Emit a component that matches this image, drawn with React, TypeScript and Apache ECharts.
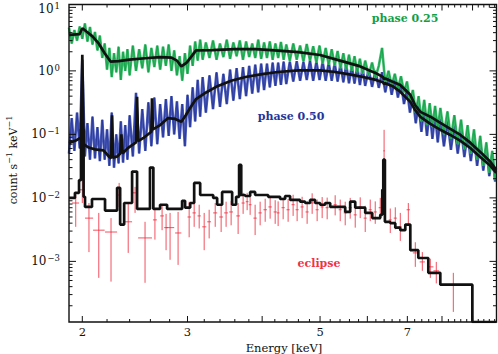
import React, { useEffect, useRef } from "react";
import * as echarts from "echarts";

// ---------- axes ----------
const X_MIN = 1.9;
const X_MAX = 9.87;
const Y_MIN = 1.11e-4;
const Y_MAX = 11.1;

const xTickLabels = [2, 3, 5, 7];
const xMajorTicks = [2, 3, 4, 5, 6, 7, 8, 9];
const yTickExponents = [1, 0, -1, -2, -3];

// ---------- channel energies of the phase-resolved spectra (keV) ----------
const chanE = [
  1.9, 1.92, 1.94, 1.96, 1.98, 2.0, 2.02, 2.04, 2.06, 2.08, 2.1, 2.12, 2.14, 2.16, 2.18, 2.2, 2.22, 2.24, 2.26,
  2.28, 2.3, 2.32, 2.34, 2.36, 2.38, 2.4,
  2.43, 2.46, 2.49, 2.52, 2.55, 2.58, 2.61, 2.64, 2.67, 2.7, 2.73, 2.76, 2.79, 2.82, 2.85, 2.88, 2.91, 2.94,
  2.97, 3.0, 3.03, 3.06, 3.09, 3.12, 3.15, 3.18,
  3.22, 3.265, 3.31, 3.355, 3.4, 3.445, 3.49, 3.535, 3.58, 3.625, 3.67, 3.715, 3.76, 3.805, 3.85, 3.895, 3.94,
  3.985, 4.03, 4.075, 4.12, 4.165, 4.21, 4.255, 4.3, 4.345, 4.39,
  4.45, 4.51, 4.57, 4.63, 4.69, 4.75, 4.81, 4.87, 4.93, 4.99, 5.05, 5.11, 5.17, 5.23, 5.29, 5.35, 5.41, 5.47,
  5.53, 5.59, 5.65, 5.71, 5.77, 5.83, 5.89, 5.95,
  6.03, 6.11, 6.19, 6.27, 6.35, 6.43, 6.51, 6.59, 6.67, 6.75, 6.83, 6.91, 6.99, 7.07, 7.15, 7.23, 7.31, 7.39,
  7.47, 7.55, 7.63, 7.71, 7.79, 7.87, 7.95,
  8.06, 8.17, 8.28, 8.39, 8.5, 8.61, 8.72, 8.83, 8.94, 9.05, 9.16, 9.27, 9.38, 9.49, 9.6, 9.71, 9.82,
];

// ---------- phase 0.25 data (green) ----------
const greenV = [
  4.8, 2.7, 4.4, 3.0, 5.0, 3.2, 5.6, 2.9, 4.9, 2.6, 4.1, 2.1, 3.6, 1.6, 2.7, 1.05, 2.3, 0.8, 1.9,
  0.95, 2.4, 0.72, 2.0, 1.0, 2.2, 0.85,
  2.5, 1.0, 2.2, 1.1, 2.6, 0.95, 2.3, 1.15, 2.5, 1.05, 2.4, 1.2, 2.6, 1.0, 2.1, 0.85, 1.7, 0.7,
  1.9, 0.9, 2.5, 1.2, 2.9, 1.45, 3.1, 1.5,
  2.8, 1.6, 3.0, 1.5, 2.7, 1.65, 3.1, 1.55, 2.8, 1.7, 3.0, 1.5, 2.9, 1.65, 2.7, 1.6, 3.1,
  1.55, 2.8, 1.6, 2.9, 1.5, 2.7, 1.6, 2.85, 1.5, 2.6,
  1.45, 2.7, 1.5, 2.5, 1.4, 2.65, 1.45, 2.45, 1.35, 2.5, 1.3, 2.3, 1.25, 2.2, 1.2, 2.05, 1.1, 1.9,
  1.05, 1.8, 1.0, 1.7, 0.95, 1.55, 0.9, 1.45,
  0.85, 1.35, 0.78, 1.2, 2.3, 0.62, 1.0, 0.58, 0.9, 0.52, 0.82, 0.46, 0.68, 0.33, 0.5, 0.22, 0.4, 0.16,
  0.35, 0.14, 0.31, 0.13, 0.28, 0.12, 0.26,
  0.1, 0.23, 0.085, 0.2, 0.07, 0.17, 0.058, 0.14, 0.05, 0.12, 0.04, 0.095, 0.032, 0.075, 0.025, 0.055, 0.019,
];

// ---------- phase 0.50 data (blue) ----------
const blueV = [
  0.05, 0.18, 0.055, 0.22, 0.06, 1.5, 0.045, 0.15, 0.04, 0.19, 0.042, 0.13, 0.038, 0.17, 0.04, 0.12, 0.032, 0.22, 0.03,
  0.1, 0.035, 0.16, 0.036, 0.14, 0.04, 0.2,
  0.045, 0.45, 0.05, 0.25, 0.055, 0.32, 0.065, 0.38, 0.07, 0.3, 0.09, 0.36, 0.095, 0.4, 0.1, 0.33, 0.085, 0.3,
  0.065, 0.42, 0.13, 0.55, 0.16, 0.72, 0.19, 0.8,
  0.22, 0.85, 0.25, 0.95, 0.27, 0.9, 0.3, 1.05, 0.34, 1.1, 0.36, 1.15, 0.4, 1.2, 0.44, 1.25, 0.46,
  1.3, 0.5, 1.3, 0.55, 1.35, 0.58, 1.35, 0.6, 1.4, 0.62,
  1.4, 0.68, 1.42, 0.7, 1.38, 0.72, 1.45, 0.7, 1.4, 0.72, 1.38, 0.7, 1.35, 0.7, 1.32, 0.68, 1.28, 0.66,
  1.25, 0.64, 1.2, 0.63, 1.16, 0.6, 1.12, 0.58,
  1.05, 0.56, 1.0, 0.54, 0.95, 0.46, 0.85, 0.42, 0.75, 0.38, 0.66, 0.3, 0.52, 0.22, 0.4, 0.15, 0.3, 0.11,
  0.27, 0.095, 0.24, 0.085, 0.21, 0.075, 0.19,
  0.065, 0.17, 0.057, 0.145, 0.05, 0.125, 0.044, 0.105, 0.038, 0.09, 0.032, 0.075, 0.027, 0.062, 0.022, 0.048, 0.018,
];

// ---------- models (black) ----------
const greenModelE = [
  1.9, 1.98, 2.0, 2.03, 2.08, 2.13, 2.18, 2.23, 2.3, 2.4, 2.55, 2.7, 2.82, 2.88, 2.93, 2.99, 3.04, 3.1,
  3.3, 3.6, 3.9, 4.2, 4.6, 5.0, 5.4, 5.8, 6.2, 6.37, 6.4, 6.43, 6.6, 6.81, 7.08, 7.21, 7.36, 7.65, 7.95,
  8.26, 8.59, 8.92, 9.27, 9.64, 9.86,
];
const greenModelV = [
  3.7, 3.8, 4.7, 4.2, 3.5, 2.7, 1.9, 1.4, 1.42, 1.5, 1.58, 1.65, 1.62, 1.45, 1.18, 1.35, 1.65, 2.1,
  2.12, 2.2, 2.2, 2.1, 1.98, 1.78, 1.45, 1.2, 0.92, 0.8, 0.74, 0.76, 0.68, 0.6, 0.42, 0.29, 0.226, 0.19, 0.152,
  0.122, 0.098, 0.074, 0.053, 0.037, 0.0276,
];
const blueModelE = [
  1.9, 1.95, 1.99, 2.0, 2.01, 2.05, 2.1, 2.17, 2.22, 2.235, 2.243, 2.25, 2.29, 2.315, 2.325, 2.335, 2.38,
  2.46, 2.47, 2.48, 2.54, 2.61, 2.616, 2.625, 2.7, 2.78, 2.86, 2.93, 2.98, 3.03, 3.1, 3.2, 3.35, 3.55,
  3.75, 4.0, 4.25, 4.6, 5.0, 5.3, 5.6, 5.9, 6.2, 6.37, 6.4, 6.43, 6.6, 6.81, 7.08, 7.21, 7.36, 7.65,
  7.95, 8.26, 8.59, 8.92, 9.27, 9.64, 9.86,
];
const blueModelV = [
  0.073, 0.08, 0.09, 1.8, 0.07, 0.062, 0.058, 0.056, 0.044, 0.042, 0.2, 0.043, 0.045, 0.05, 0.1, 0.05, 0.06,
  0.075, 0.39, 0.078, 0.09, 0.11, 0.37, 0.12, 0.14, 0.18, 0.175, 0.158, 0.2, 0.26, 0.36, 0.44, 0.56, 0.7,
  0.8, 0.89, 0.96, 1.02, 1.02, 0.96, 0.88, 0.8, 0.72, 0.66, 0.62, 0.64, 0.58, 0.47, 0.325, 0.243, 0.189, 0.146,
  0.118, 0.098, 0.079, 0.061, 0.044, 0.032, 0.0248,
];
// eclipse model, histogram: value holds from each edge to the next
const eclipseModelE = [
  1.9, 1.944, 1.975, 1.99, 2.01, 2.021, 2.076, 2.183, 2.287, 2.314, 2.35, 2.423, 2.47, 2.596, 2.63, 2.699,
  2.773, 2.938, 2.972, 3.031, 3.078, 3.15, 3.312, 3.363, 3.428, 3.563, 3.618, 3.66, 3.69, 3.746, 3.819,
  3.893, 4.094, 4.287, 4.37, 4.455, 4.63, 4.72, 4.812, 4.906, 5.002, 5.099, 5.199, 5.509, 5.616, 5.726,
  5.951, 6.114, 6.306, 6.355, 6.38, 6.42, 6.554, 6.682, 6.812, 6.945, 7.08, 7.302, 7.589, 7.948, 8.993, 9.87,
];
const eclipseModelV = [
  0.01, 0.012, 0.019, 0.12, 0.0104, 0.0072, 0.0096, 0.0063, 0.0144, 0.0038, 0.0083, 0.026, 0.0067, 0.03,
  0.0067, 0.0078, 0.0067, 0.009, 0.007, 0.0083, 0.0172, 0.0111, 0.01, 0.0078, 0.0124, 0.0078, 0.0104, 0.033,
  0.0111, 0.0107, 0.0124, 0.0111, 0.0104, 0.0096, 0.0107, 0.0093, 0.0087, 0.0083, 0.0093, 0.0083, 0.0078,
  0.0083, 0.0072, 0.006, 0.0087, 0.007, 0.0058, 0.0048, 0.0054, 0.0134, 0.04, 0.0042, 0.004, 0.0034, 0.0031,
  0.0038, 0.0015, 0.00113, 0.00066, 0.00043, 1.11e-4, 1.11e-4,
];

// ---------- eclipse data: centre, rate, bin edges, error range ----------
const eclipseE = [
  1.95, 2.0, 2.052, 2.131, 2.234, 2.305, 2.387, 2.451, 2.547, 2.646, 2.72, 2.762, 2.805, 2.893, 3.019, 3.078,
  3.138, 3.199, 3.261, 3.338, 3.415, 3.481, 3.549, 3.646, 3.717, 3.775, 3.819, 3.893, 3.969, 4.047, 4.125,
  4.206, 4.254, 4.337, 4.421, 4.507, 4.577, 4.666, 4.757, 4.85, 4.944, 5.041, 5.139, 5.3, 5.404, 5.509,
  5.616, 5.726, 5.837, 5.951, 6.067, 6.185, 6.306, 6.4, 6.554, 6.682, 6.812, 7.026, 7.218, 7.416, 7.648,
  7.826, 8.357,
];
const eclipseV = [
  0.0083, 0.0134, 0.0048, 0.0031, 0.0029, 0.0111, 0.0042, 0.012, 0.00234, 0.0045, 0.0052, 0.0034, 0.0034,
  0.0028, 0.005, 0.0058, 0.0052, 0.0035, 0.0042, 0.0058, 0.005, 0.0058, 0.006, 0.0052, 0.0083, 0.0087, 0.0078,
  0.0048, 0.0058, 0.0065, 0.0072, 0.006, 0.0058, 0.007, 0.0065, 0.0078, 0.0065, 0.0072, 0.006, 0.0083, 0.0065,
  0.0072, 0.007, 0.0078, 0.0065, 0.0058, 0.007, 0.0054, 0.0072, 0.0048, 0.0065, 0.006, 0.007, 0.055, 0.0045,
  0.0048, 0.0035, 0.0065, 0.00136, 0.00098, 0.00082, 0.00071, 0.00043,
];
const eclipseElo = [
  1.922, 1.978, 2.021, 2.085, 2.183, 2.287, 2.35, 2.43, 2.48, 2.626, 2.7, 2.742, 2.76, 2.86, 3.0, 3.058,
  3.118, 3.175, 3.237, 3.312, 3.39, 3.455, 3.523, 3.62, 3.695, 3.755, 3.798, 3.868, 3.944, 4.02, 4.098,
  4.18, 4.232, 4.31, 4.394, 4.48, 4.55, 4.638, 4.728, 4.821, 4.915, 5.011, 5.108, 5.268, 5.372, 5.476,
  5.582, 5.692, 5.802, 5.915, 6.03, 6.148, 6.268, 6.38, 6.515, 6.642, 6.771, 6.98, 7.15, 7.34, 7.56,
  7.74, 7.948,
];
const eclipseEhi = [
  1.975, 2.021, 2.085, 2.18, 2.287, 2.322, 2.423, 2.47, 2.616, 2.666, 2.74, 2.782, 2.85, 2.93, 3.04, 3.098,
  3.158, 3.225, 3.285, 3.363, 3.44, 3.507, 3.575, 3.672, 3.74, 3.795, 3.84, 3.918, 3.994, 4.074, 4.152,
  4.232, 4.276, 4.364, 4.448, 4.534, 4.604, 4.694, 4.786, 4.879, 4.973, 5.071, 5.17, 5.332, 5.436, 5.542,
  5.65, 5.76, 5.872, 5.987, 6.104, 6.222, 6.344, 6.42, 6.593, 6.722, 6.853, 7.07, 7.29, 7.49, 7.74,
  7.91, 8.924,
];
const eclipseErrLo = [
  0.0035, 0.0083, 0.0014, 0.00055, 0.00048, 0.0072, 0.00136, 0.0058, 0.00046, 0.0022, 0.0031, 0.0015, 0.00106,
  0.00088, 0.0024, 0.0035, 0.0033, 0.0015, 0.0023, 0.0035, 0.0029, 0.0035, 0.0037, 0.0027, 0.0056, 0.0064,
  0.0054, 0.0026, 0.0037, 0.0042, 0.0047, 0.0039, 0.0036, 0.0046, 0.0042, 0.0052, 0.0043, 0.0048, 0.0039,
  0.0056, 0.0043, 0.0048, 0.0046, 0.0053, 0.0043, 0.0037, 0.0047, 0.0034, 0.0048, 0.0029, 0.0043, 0.0039,
  0.0046, 0.033, 0.0028, 0.0032, 0.0021, 0.0036, 0.00082, 0.00071, 0.00055, 0.00045, 0.00016,
];
const eclipseErrHi = [
  0.0111, 0.0192, 0.0083, 0.0058, 0.0048, 0.0172, 0.0083, 0.0149, 0.0042, 0.0065, 0.0078, 0.0056, 0.0058,
  0.006, 0.0087, 0.0087, 0.0078, 0.0058, 0.0065, 0.0083, 0.0078, 0.0087, 0.009, 0.0083, 0.012, 0.012, 0.011,
  0.0078, 0.0087, 0.0097, 0.0104, 0.0092, 0.0088, 0.0102, 0.0096, 0.0112, 0.0095, 0.0104, 0.0089, 0.0118,
  0.0094, 0.0103, 0.0101, 0.011, 0.0094, 0.0087, 0.01, 0.0082, 0.0102, 0.0075, 0.0094, 0.0088, 0.01, 0.118,
  0.0068, 0.0071, 0.0058, 0.0083, 0.002, 0.0014, 0.0011, 0.00098, 0.00066,
];

const FONT = '"DejaVu Serif", "Liberation Serif", serif';
const GREEN = "#0f9f47";
const GREEN_LIGHT = "#3dbb6a";
const BLUE = "#24349a";
const BLUE_LIGHT = "#4b5bb6";
const RED = "#ef3344";
const INK = "#111111";

const pairs = (xs: number[], ys: number[]) => xs.map((x, i) => [x, ys[i]]);

function expLabel(n: number) {
  const s = n < 0 ? "\u2212" + Math.abs(n) : String(n);
  return `{b|10}{s|${s}}`;
}

export default function App() {
  const ref = useRef<HTMLDivElement>(null);

  useEffect(() => {
    document.body.style.margin = "0";
    const chart = echarts.init(ref.current!, null, { renderer: "svg" });

    const xMinorTicks: number[] = [];
    for (let k = 20; k <= 98; k += 2) {
      const e = k / 10;
      if (e > X_MIN && e < X_MAX && k % 10 !== 0) xMinorTicks.push(e);
    }
    const yMinorTicks: number[] = [];
    for (let n = -4; n <= 1; n++) {
      for (let k = 2; k <= 9; k++) {
        const v = k * Math.pow(10, n);
        if (v > Y_MIN && v < Y_MAX) yMinorTicks.push(v);
      }
    }

    const renderFrame = (params: any, api: any) => {
      const cs = params.coordSys;
      const L = cs.x;
      const T = cs.y;
      const R = cs.x + cs.width;
      const B = cs.y + cs.height;
      const kids: any[] = [];
      const ln = (x1: number, y1: number, x2: number, y2: number, w = 1) =>
        kids.push({ type: "line", shape: { x1, y1, x2, y2 }, style: { stroke: INK, lineWidth: w } });
      xMinorTicks.forEach((e) => {
        const x = api.coord([e, 1])[0];
        ln(x, B, x, B - 3);
        ln(x, T, x, T + 3);
      });
      xMajorTicks.forEach((e) => {
        const x = api.coord([e, 1])[0];
        ln(x, B, x, B - 6);
        ln(x, T, x, T + 6);
      });
      yMinorTicks.forEach((v) => {
        const y = api.coord([2, v])[1];
        ln(L, y, L + 3.5, y);
        ln(R, y, R - 3.5, y);
      });
      yTickExponents.forEach((n) => {
        const y = api.coord([2, Math.pow(10, n)])[1];
        ln(L, y, L + 7, y);
        ln(R, y, R - 7, y);
      });
      kids.push({
        type: "rect",
        shape: { x: L, y: T, width: cs.width, height: cs.height },
        style: { fill: "none", stroke: INK, lineWidth: 1.4 },
      });
      xTickLabels.forEach((e) => {
        const x = api.coord([e, 1])[0];
        kids.push({
          type: "text",
          x,
          y: B + 10,
          style: { text: String(e), fill: INK, fontSize: 11.5, fontFamily: FONT, align: "center", verticalAlign: "middle" },
        });
      });
      yTickExponents.forEach((n) => {
        const y = api.coord([2, Math.pow(10, n)])[1];
        kids.push({
          type: "text",
          x: L - 9,
          y: n === 1 ? y + 2 : y,
          style: {
            text: expLabel(n),
            fill: INK,
            fontSize: 12,
            fontFamily: FONT,
            align: "right",
            verticalAlign: "middle",
            rich: {
              b: { fontSize: 12, fontFamily: FONT, fill: INK },
              s: { fontSize: 8.5, fontFamily: FONT, fill: INK, padding: [0, 0, 6, 1] },
            },
          },
        });
      });
      return { type: "group", children: kids };
    };

    const renderErr = (params: any, api: any) => {
      const E = api.value(0);
      const v = api.value(1);
      const el = api.value(2);
      const eh = api.value(3);
      const lo = api.value(4);
      const hi = api.value(5);
      const pl = api.coord([el, v]);
      const pr = api.coord([eh, v]);
      const pt = api.coord([E, hi]);
      const pb = api.coord([E, lo]);
      const style = { stroke: RED, lineWidth: 1, opacity: 0.85 };
      return {
        type: "group",
        children: [
          { type: "line", shape: { x1: pl[0], y1: pl[1], x2: pr[0], y2: pr[1] }, style },
          { type: "line", shape: { x1: pt[0], y1: pt[1], x2: pb[0], y2: pb[1] }, style },
        ],
      };
    };

    const eclipseRows = eclipseE.map((e, i) => [
      e,
      eclipseV[i],
      eclipseElo[i],
      eclipseEhi[i],
      eclipseErrLo[i],
      eclipseErrHi[i],
    ]);

    const band = (name: string, ys: number[], light: string, dark: string, z: number) => [
      {
        type: "line",
        name,
        data: pairs(chanE, ys),
        showSymbol: false,
        lineStyle: { color: light, width: 2.6, join: "miter" },
        z,
      },
      {
        type: "line",
        name: name + " (trace)",
        data: pairs(chanE, ys),
        showSymbol: false,
        lineStyle: { color: dark, width: 0.8, join: "round" },
        z,
      },
    ];

    chart.setOption({
      animation: false,
      backgroundColor: "#ffffff",
      grid: { left: 69, right: 1.5, top: 4.5, bottom: 32, containLabel: false, outerBoundsMode: "none" },
      xAxis: {
        type: "log",
        logBase: 10,
        min: X_MIN,
        max: X_MAX,
        axisLine: { show: false },
        axisTick: { show: false },
        axisLabel: { show: false },
        splitLine: { show: false },
        minorTick: { show: false },
      },
      yAxis: {
        type: "log",
        logBase: 10,
        min: Y_MIN,
        max: Y_MAX,
        axisLine: { show: false },
        axisTick: { show: false },
        axisLabel: { show: false },
        splitLine: { show: false },
        minorTick: { show: false },
      },
      series: [
        ...band("phase 0.50", blueV, BLUE_LIGHT, BLUE, 2),
        ...band("phase 0.25", greenV, GREEN_LIGHT, GREEN, 3),
        {
          type: "custom",
          name: "eclipse",
          data: eclipseRows,
          encode: { x: 0, y: 1 },
          renderItem: renderErr,
          z: 4,
        },
        {
          type: "line",
          name: "model 0.50",
          data: pairs(blueModelE, blueModelV),
          showSymbol: false,
          lineStyle: { color: INK, width: 2.7 },
          z: 5,
        },
        {
          type: "line",
          name: "model 0.25",
          data: pairs(greenModelE, greenModelV),
          showSymbol: false,
          lineStyle: { color: INK, width: 2.7 },
          z: 5,
        },
        {
          type: "line",
          name: "model eclipse",
          step: "end",
          data: pairs(eclipseModelE, eclipseModelV),
          showSymbol: false,
          lineStyle: { color: INK, width: 2.7 },
          z: 5,
        },
        {
          type: "custom",
          name: "frame",
          data: [[2, 1]],
          renderItem: renderFrame,
          clip: false,
          silent: true,
          z: 10,
        },
      ],
      graphic: [
        {
          type: "text",
          x: 405,
          y: 18,
          style: { text: "phase 0.25", fill: GREEN, fontSize: 11, fontWeight: "bold", fontFamily: FONT, align: "center", verticalAlign: "middle" },
        },
        {
          type: "text",
          x: 291,
          y: 116,
          style: { text: "phase 0.50", fill: BLUE, fontSize: 11, fontWeight: "bold", fontFamily: FONT, align: "center", verticalAlign: "middle" },
        },
        {
          type: "text",
          x: 319,
          y: 263,
          style: { text: "eclipse", fill: RED, fontSize: 11, fontWeight: "bold", fontFamily: FONT, align: "center", verticalAlign: "middle" },
        },
        {
          type: "text",
          x: 284,
          y: 347.5,
          style: { text: "Energy [keV]", fill: INK, fontSize: 11.5, fontFamily: FONT, align: "center", verticalAlign: "middle" },
        },
        {
          type: "text",
          x: 13,
          y: 160,
          rotation: Math.PI / 2,
          style: {
            text: "count s{s|\u22121} keV{s|\u22121}",
            fill: INK,
            fontSize: 11,
            fontFamily: FONT,
            align: "center",
            verticalAlign: "middle",
            rich: {
              s: { fontSize: 8, fontFamily: FONT, fill: INK, padding: [0, 0, 7, 0] },
            },
          },
        },
      ],
    });

    return () => chart.dispose();
  }, []);

  return (
    <div
      ref={ref}
      style={{ position: "fixed", left: 0, top: 0, width: 498, height: 354, background: "#fff" }}
    />
  );
}
